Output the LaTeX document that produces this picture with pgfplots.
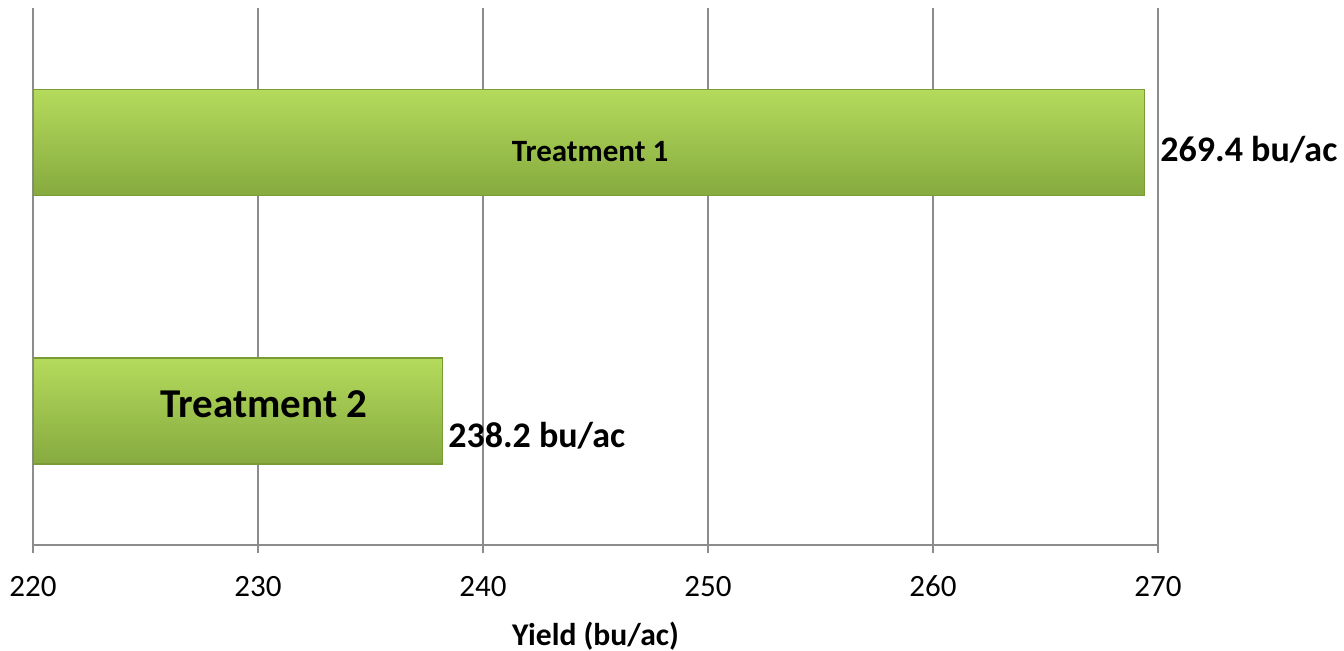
\documentclass[border=0pt]{standalone}
\usepackage{fontspec}
\setmainfont{Carlito}
\usepackage{pgfplots}
\pgfplotsset{compat=1.18}
\definecolor{gridgray}{HTML}{8C8C8C}
\definecolor{bartop}{HTML}{B4DB5C}
\definecolor{barmid}{HTML}{A0C94C}
\definecolor{barbot}{HTML}{86AA3F}
\definecolor{baredge}{HTML}{7A9A36}
\pgfplotsset{greenbar/.style={xbar, bar width=53pt, bar shift=0pt, top color=bartop, middle color=barmid, bottom color=barbot, draw=baredge, line width=0.75pt, mark=none}}
\begin{document}
\begin{tikzpicture}
\begin{axis}[
  scale only axis, width=562.5pt, height=268.5pt,
  xmin=220, xmax=270, ymin=0.5, ymax=2.5,
  xtick={220,230,240,250,260,270},
  ytick=\empty,
  xmajorgrids, grid style={gridgray, line width=0.75pt},
  axis x line*=bottom, axis y line=none,
  axis line style={gridgray, line width=0.75pt, -},
  tick style={gridgray, line width=0.75pt},
  tick align=outside, major tick length=4pt,
  /pgf/number format/assume math mode=true,
  xticklabel style={font=\fontsize{15.5}{18}\selectfont, anchor=base, yshift=-21.5pt},
  xlabel={Yield (bu/ac)},
  xlabel style={font=\bfseries\fontsize{15.8}{18}\selectfont, at={(axis description cs:0.5,0)}, anchor=base, yshift=-50pt},
  clip mode=individual,
]
\addplot[greenbar] coordinates {(269.4,2)};
\addplot[greenbar] coordinates {(238.2,1)};
\node[font=\bfseries\fontsize{15.5}{18}\selectfont, anchor=base, inner sep=0pt] at (axis cs:244.76,1.93) {Treatment 1};
\node[font=\bfseries\fontsize{20.5}{24}\selectfont, anchor=base, inner sep=0pt] at (axis cs:230.27,0.974) {Treatment 2};
\node[font=\bfseries\fontsize{18}{22}\selectfont, anchor=base west, inner sep=0pt] at (axis cs:270.09,1.93) {269.4 bu/ac};
\node[font=\bfseries\fontsize{18}{22}\selectfont, anchor=base west, inner sep=0pt] at (axis cs:238.44,0.863) {238.2 bu/ac};
\end{axis}
\pgfresetboundingbox
\path[use as bounding box] ([xshift=-16.5pt,yshift=-52.5pt]current axis.south west) rectangle ([xshift=93pt,yshift=4pt]current axis.north east);
\end{tikzpicture}
\end{document}
